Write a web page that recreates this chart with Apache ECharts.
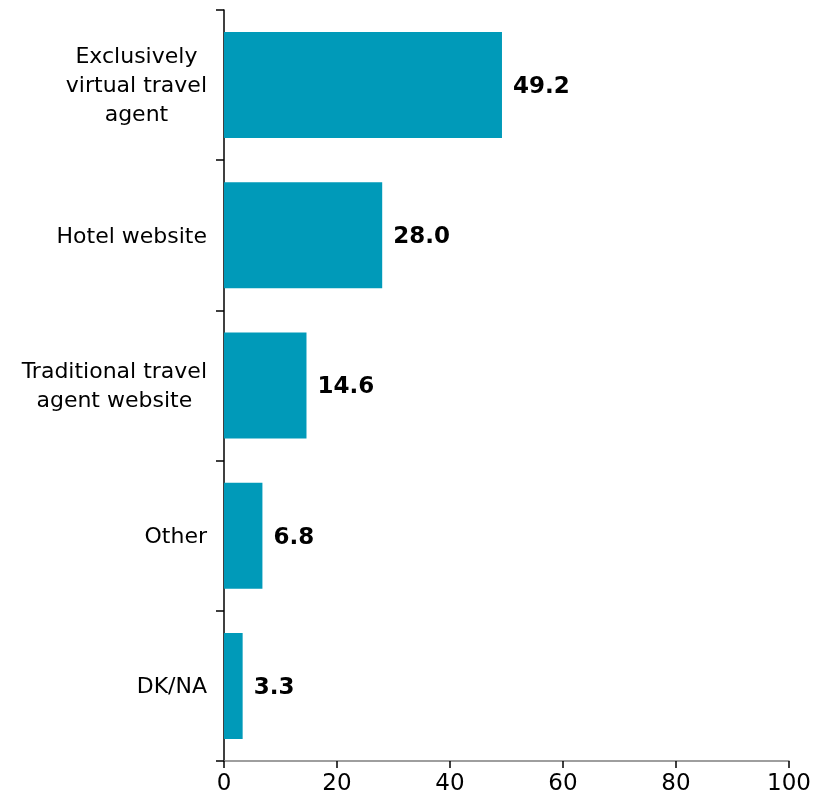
<!DOCTYPE html>
<html>
<head>
<meta charset="utf-8">
<script src="https://cdn.jsdelivr.net/npm/echarts@6/dist/echarts.min.js"></script>
<style>
  html, body { margin: 0; padding: 0; background: #ffffff; }
  #chart { width: 814px; height: 808px; }
</style>
</head>
<body>
<div id="chart"></div>
<script>
// Booking channel shares (%), top to bottom
const categories = [
  'Exclusively\nvirtual travel\nagent',
  'Hotel website',
  'Traditional travel\nagent website',
  'Other',
  'DK/NA'
];
const values = [49.2, 28.0, 14.6, 6.8, 3.3];
const xTicks = [0, 20, 40, 60, 80, 100];

const FONT = '"DejaVu Sans", Verdana, sans-serif';
const BAR_COLOR = '#009ab9';

const chart = echarts.init(document.getElementById('chart'), null, { renderer: 'canvas' });

chart.setOption({
  animation: false,
  backgroundColor: '#ffffff',
  grid: { left: 224, right: 25, top: 10, bottom: 47, containLabel: false },
  xAxis: {
    type: 'value',
    min: xTicks[0],
    max: xTicks[xTicks.length - 1],
    interval: xTicks[1] - xTicks[0],
    splitLine: { show: false },
    axisLine: { show: true, lineStyle: { color: '#7f7f7f', width: 1.5 } },
    axisTick: { show: true, length: 7, lineStyle: { color: '#000000', width: 1.5 } },
    axisLabel: {
      color: '#000000',
      fontFamily: FONT,
      fontSize: 23,
      margin: 12
    }
  },
  yAxis: {
    type: 'category',
    inverse: true,
    data: categories,
    axisLine: { show: true, lineStyle: { color: '#000000', width: 1.5 } },
    axisTick: { show: true, length: 8, lineStyle: { color: '#000000', width: 1.5 } },
    axisLabel: {
      margin: 17,
      formatter: function (v) {
        return v.split('\n').map(function (s) { return '{c|' + s + '}'; }).join('\n');
      },
      rich: {
        c: {
          align: 'center',
          color: '#000000',
          fontFamily: FONT,
          fontSize: 22,
          lineHeight: 29,
          padding: [3, 0, 0, 0]
        }
      }
    }
  },
  series: [{
    type: 'bar',
    data: values,
    barWidth: 106,
    itemStyle: { color: BAR_COLOR },
    label: {
      show: true,
      position: 'right',
      distance: 11,
      color: '#000000',
      fontFamily: FONT,
      fontSize: 23,
      fontWeight: 'bold',
      offset: [0, 2],
      formatter: function (p) { return p.value.toFixed(1); }
    }
  }]
});
</script>
</body>
</html>
